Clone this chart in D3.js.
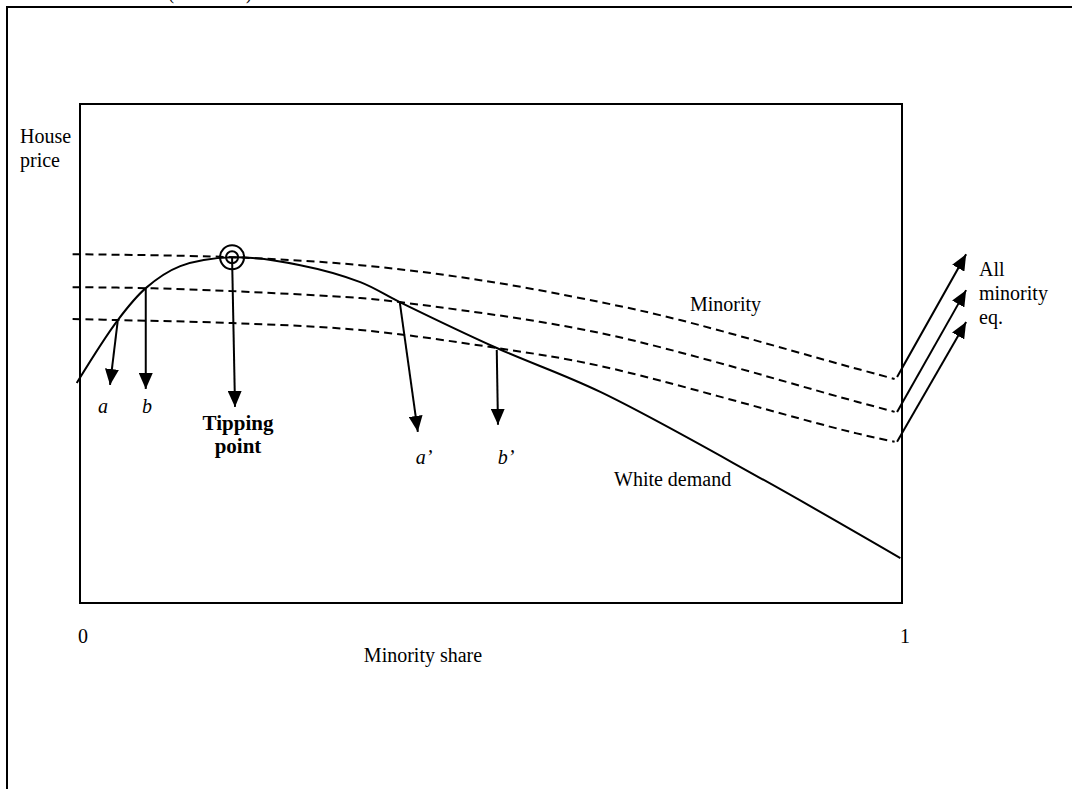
<!DOCTYPE html>
<html>
<head>
<meta charset="utf-8">
<script src="https://cdn.jsdelivr.net/npm/d3@7"></script>
<style>
  body { margin: 0; background: #fff; }
  text { font-family: "Liberation Serif", "Times New Roman", serif; font-size: 20px; fill: #000; }
</style>
</head>
<body>
<div id="chart"></div>
<script>
// minority share (0..1) and house price (0..100, arbitrary units)
let whiteShare = [-0.004, 0.046, 0.080, 0.122, 0.185, 0.268, 0.341, 0.389, 0.507, 0.633, 0.827, 0.998];
let whitePrice = [44.1, 56.7, 63.1, 67.5, 69.3, 67.7, 64.3, 60.3, 51.1, 42.3, 25.1, 9.0];

let minShareTop = [-0.009, 0.185, 0.341, 0.487, 0.633, 0.730, 0.937, 0.991];
let minPriceTop = [69.9, 69.3, 67.7, 64.7, 60.3, 56.7, 47.3, 44.9];
let minShareMid = [-0.009, 0.080, 0.185, 0.341, 0.389, 0.633, 0.937, 0.991];
let minPriceMid = [63.3, 63.1, 62.5, 61.1, 60.3, 54.1, 40.7, 38.3];
let minShareLow = [-0.009, 0.046, 0.185, 0.341, 0.507, 0.633, 0.937, 0.991];
let minPriceLow = [56.9, 56.7, 56.1, 54.7, 51.1, 47.5, 34.3, 32.3];

// arrows: start share/price -> end share/price
let arrowFromShare = [0.046, 0.080, 0.185, 0.389, 0.507, 0.994, 0.994, 0.994];
let arrowFromPrice = [56.7, 63.1, 69.3, 60.3, 50.7, 45.3, 38.3, 32.3];
let arrowToShare   = [0.0365, 0.080, 0.1886, 0.411, 0.5085, 1.078, 1.078, 1.078];
let arrowToPrice   = [43.7, 42.9, 39.3, 34.3, 35.7, 69.9, 62.7, 56.3];

let tipShare = 0.185, tipPrice = 69.3;
let tickLabels = ["0", "1"];

function toPoints(xs, ys) {
    return xs.map((d, i) => ({ share: d, price: ys[i] }));
}

function graph(id) {
    let width = 1072, height = 789;
    let svg = d3.select(id).append("svg")
            .attr("width", width)
            .attr("height", height);

    let x = d3.scaleLinear().domain([0, 1]).range([80, 902]);
    let y = d3.scaleLinear().domain([0, 100]).range([603, 104]);

    // outer page frame, running off the bottom/right; caption above is cut off by the page edge
    svg.append("text").attr("x", 168).attr("y", -1)
        .attr("textLength", 84).attr("lengthAdjust", "spacingAndGlyphs")
        .text("(continued)");
    svg.append("path")
        .attr("d", "M7,789 V7 H1072")
        .attr("fill", "none").attr("stroke", "#000").attr("stroke-width", 2);

    // inner plot frame
    svg.append("rect")
        .attr("x", x(0)).attr("y", y(100))
        .attr("width", x(1) - x(0)).attr("height", y(0) - y(100))
        .attr("fill", "none").attr("stroke", "#000").attr("stroke-width", 2);

    svg.append("defs").append("marker")
        .attr("id", "head")
        .attr("markerUnits", "userSpaceOnUse")
        .attr("markerWidth", 16).attr("markerHeight", 14)
        .attr("refX", 16).attr("refY", 7)
        .attr("orient", "auto")
        .append("path").attr("d", "M0,0 L16,7 L0,14 Z").attr("fill", "#000");

    let line = d3.line()
        .x((d) => x(d.share))
        .y((d) => y(d.price))
        .curve(d3.curveCatmullRom);

    // minority bid-rent curves (dashed)
    [toPoints(minShareTop, minPriceTop), toPoints(minShareMid, minPriceMid), toPoints(minShareLow, minPriceLow)]
        .forEach((pts) => {
            svg.append("path").datum(pts)
                .attr("d", line)
                .attr("fill", "none").attr("stroke", "#000")
                .attr("stroke-width", 2).attr("stroke-dasharray", "8,5");
        });

    // white demand curve
    svg.append("path").datum(toPoints(whiteShare, whitePrice))
        .attr("d", line)
        .attr("fill", "none").attr("stroke", "#000").attr("stroke-width", 2);

    // arrows
    svg.selectAll(".arrow")
        .data(arrowFromShare)
        .enter()
        .append("line")
        .attr("class", "arrow")
        .attr("x1", (d) => x(d))
        .attr("y1", (d, i) => y(arrowFromPrice[i]))
        .attr("x2", (d, i) => x(arrowToShare[i]))
        .attr("y2", (d, i) => y(arrowToPrice[i]))
        .attr("stroke", "#000").attr("stroke-width", 2)
        .attr("marker-end", "url(#head)");

    // tipping point marker
    [12, 6].forEach((r) => {
        svg.append("circle")
            .attr("cx", x(tipShare)).attr("cy", y(tipPrice)).attr("r", r)
            .attr("fill", "none").attr("stroke", "#000").attr("stroke-width", 2);
    });

    // axis labels
    svg.selectAll(".tick")
        .data(tickLabels)
        .enter()
        .append("text")
        .attr("x", (d) => x(+d) + 3)
        .attr("y", 643)
        .attr("text-anchor", "middle")
        .text((d) => d);
    svg.append("text").attr("x", 423).attr("y", 662).attr("text-anchor", "middle").text("Minority share");
    svg.append("text").attr("x", 20).attr("y", 143).text("House");
    svg.append("text").attr("x", 20).attr("y", 167).text("price");

    // annotations
    svg.append("text").attr("x", 103).attr("y", 413).attr("text-anchor", "middle").style("font-style", "italic").text("a");
    svg.append("text").attr("x", 147).attr("y", 413).attr("text-anchor", "middle").style("font-style", "italic").text("b");
    svg.append("text").attr("x", 424).attr("y", 464).attr("text-anchor", "middle").style("font-style", "italic").text("a\u2019");
    svg.append("text").attr("x", 506).attr("y", 464).attr("text-anchor", "middle").style("font-style", "italic").text("b\u2019");
    svg.append("text").attr("x", 238).attr("y", 430).attr("text-anchor", "middle")
        .style("font-weight", "bold").style("font-size", "21px").text("Tipping");
    svg.append("text").attr("x", 238).attr("y", 453).attr("text-anchor", "middle")
        .style("font-weight", "bold").style("font-size", "21px").text("point");
    svg.append("text").attr("x", 690).attr("y", 311).text("Minority");
    svg.append("text").attr("x", 614).attr("y", 486).text("White demand");
    svg.append("text").attr("x", 979).attr("y", 276).text("All");
    svg.append("text").attr("x", 979).attr("y", 300).text("minority");
    svg.append("text").attr("x", 979).attr("y", 324).text("eq.");
}

graph("#chart");
</script>
</body>
</html>
